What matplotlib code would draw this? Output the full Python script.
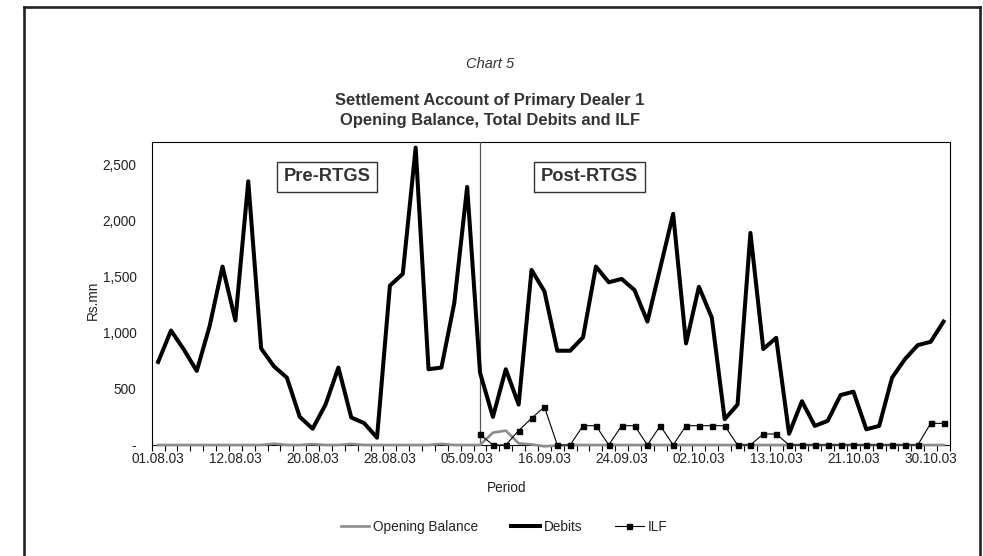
import matplotlib.pyplot as plt
from matplotlib.lines import Line2D
from matplotlib.ticker import FuncFormatter, FixedLocator
import numpy as np

plt.rcParams['font.family'] = ['Liberation Sans', 'DejaVu Sans']

# 62 settlement days, Aug-Oct 2003; only every 6th date is labelled
tick_labels = ["01.08.03", "12.08.03", "20.08.03", "28.08.03", "05.09.03", "16.09.03",
               "24.09.03", "02.10.03", "13.10.03", "21.10.03", "30.10.03"]
n_days = 62
rtgs_start = 25  # first post-RTGS day

opening_balance = [0, 0, 0, 0, 0, 0, 0, 0, 0, 12, 0, 0, 8, 0, 0, 10, 0, 0, 0, 0,
                   0, 0, 10, 0, 0, 0, 110, 128, 15, 5, -12, -5, 0, 0, 0, 0, 0, 0, 0, 0,
                   0, 0, 0, 0, 0, 0, 0, 0, 0, 0, 0, 0, 0, 0, 0, 0, 0, 0, 0, 0,
                   0, 0]
debits = [740, 1020, 850, 660, 1060, 1590, 1110, 2350, 860, 700,
          600, 250, 145, 360, 690, 245, 195, 65, 1420, 1525,
          2650, 675, 690, 1265, 2300, 645, 250, 675, 360, 1560,
          1370, 840, 840, 960, 1590, 1450, 1480, 1380, 1100, 1580,
          2060, 905, 1410, 1135, 230, 360, 1890, 855, 955, 100,
          390, 170, 215, 445, 475, 140, 170, 600, 765, 890,
          920, 1100]
# ILF only exists after RTGS went live
ilf = [np.nan] * rtgs_start + [95, 0, 0, 128, 238, 340, 0, 0, 172, 172,
                               0, 172, 172, 0, 172, 0, 172, 172, 172, 172,
                               0, 0, 98, 98, 0, 0, 0, 0, 0, 0,
                               0, 0, 0, 0, 0, 193, 193]

x = np.arange(n_days)

fig = plt.figure(figsize=(9.83, 5.56), dpi=100)
ax = fig.add_axes([151.7 / 983, 1 - 445 / 556, (950 - 151.7) / 983, (445 - 142) / 556])

txt = '#222222'

ax.plot(x, opening_balance, color='#8c8c8c', lw=1.9, label='Opening Balance', zorder=4, clip_on=False)
ax.plot(x, debits, color='black', lw=2.9, label='Debits', zorder=5)
ax.plot(x, ilf, color='black', lw=0.8, marker='s', markersize=3.6, label='ILF', zorder=6, clip_on=False)

ax.axvline(rtgs_start, color='#555555', lw=0.9, zorder=3)

ax.set_xlim(-0.5, n_days - 0.5)
ax.set_ylim(0, 2700)

ax.set_xticks(np.arange(0, n_days, 6))
ax.set_xticklabels(tick_labels)
ax.xaxis.set_minor_locator(FixedLocator(np.arange(-0.5, n_days, 1)))
ax.tick_params(axis='x', which='major', length=0, pad=5, labelsize=9.8, labelcolor=txt)
ax.tick_params(axis='x', which='minor', length=4, width=0.8, direction='out')

ax.set_yticks(np.arange(0, 2501, 500))
ax.yaxis.set_major_formatter(FuncFormatter(lambda v, p: '-' if v == 0 else f'{int(v):,}'))
ax.tick_params(axis='y', length=0, pad=11, labelsize=9.8, labelcolor=txt)

for s in ax.spines.values():
    s.set_linewidth(0.8)

box = dict(boxstyle='square,pad=0.35', facecolor='white', edgecolor='#333333', lw=1)
ax.text(13.1, 2390, 'Pre-RTGS', fontsize=13.2, fontweight='bold', color='#333333',
        ha='center', va='center', bbox=box)
ax.text(33.5, 2390, 'Post-RTGS', fontsize=13.2, fontweight='bold', color='#333333',
        ha='center', va='center', bbox=box)

fig.text(93 / 983, 1 - 300 / 556, 'Rs.mn', rotation=90, fontsize=9.8, color=txt,
         ha='center', va='center')
fig.text(507 / 983, 1 - 488 / 556, 'Period', fontsize=9.8, color=txt, ha='center', va='center')

fig.text(490 / 983, 1 - 64 / 556, 'Chart 5', fontsize=10.5, style='italic', color='#333333',
         ha='center', va='center')
fig.text(490 / 983, 1 - 100 / 556, 'Settlement Account of Primary Dealer 1', fontsize=11.9,
         fontweight='bold', color='#333333', ha='center', va='center')
fig.text(490 / 983, 1 - 121 / 556, 'Opening Balance, Total Debits and ILF', fontsize=11.9,
         fontweight='bold', color='#333333', ha='center', va='center')

fig.legend(loc='center', bbox_to_anchor=(504 / 983, 1 - 527 / 556), ncol=3, frameon=False,
           fontsize=9.8, handlelength=2.1, handletextpad=0.3, columnspacing=2.4,
           labelcolor=txt)

# outer frame, open at the bottom
frame_kw = dict(color='#222222', lw=1.9, transform=fig.transFigure, figure=fig)
l, r, t = 23.5 / 983, 979.5 / 983, 1 - 6.5 / 556
fig.lines.append(Line2D([l, l], [0, t], **frame_kw))
fig.lines.append(Line2D([r, r], [0, t], **frame_kw))
fig.lines.append(Line2D([l, r], [t, t], **frame_kw))

fig.savefig('out.png', dpi=100)
